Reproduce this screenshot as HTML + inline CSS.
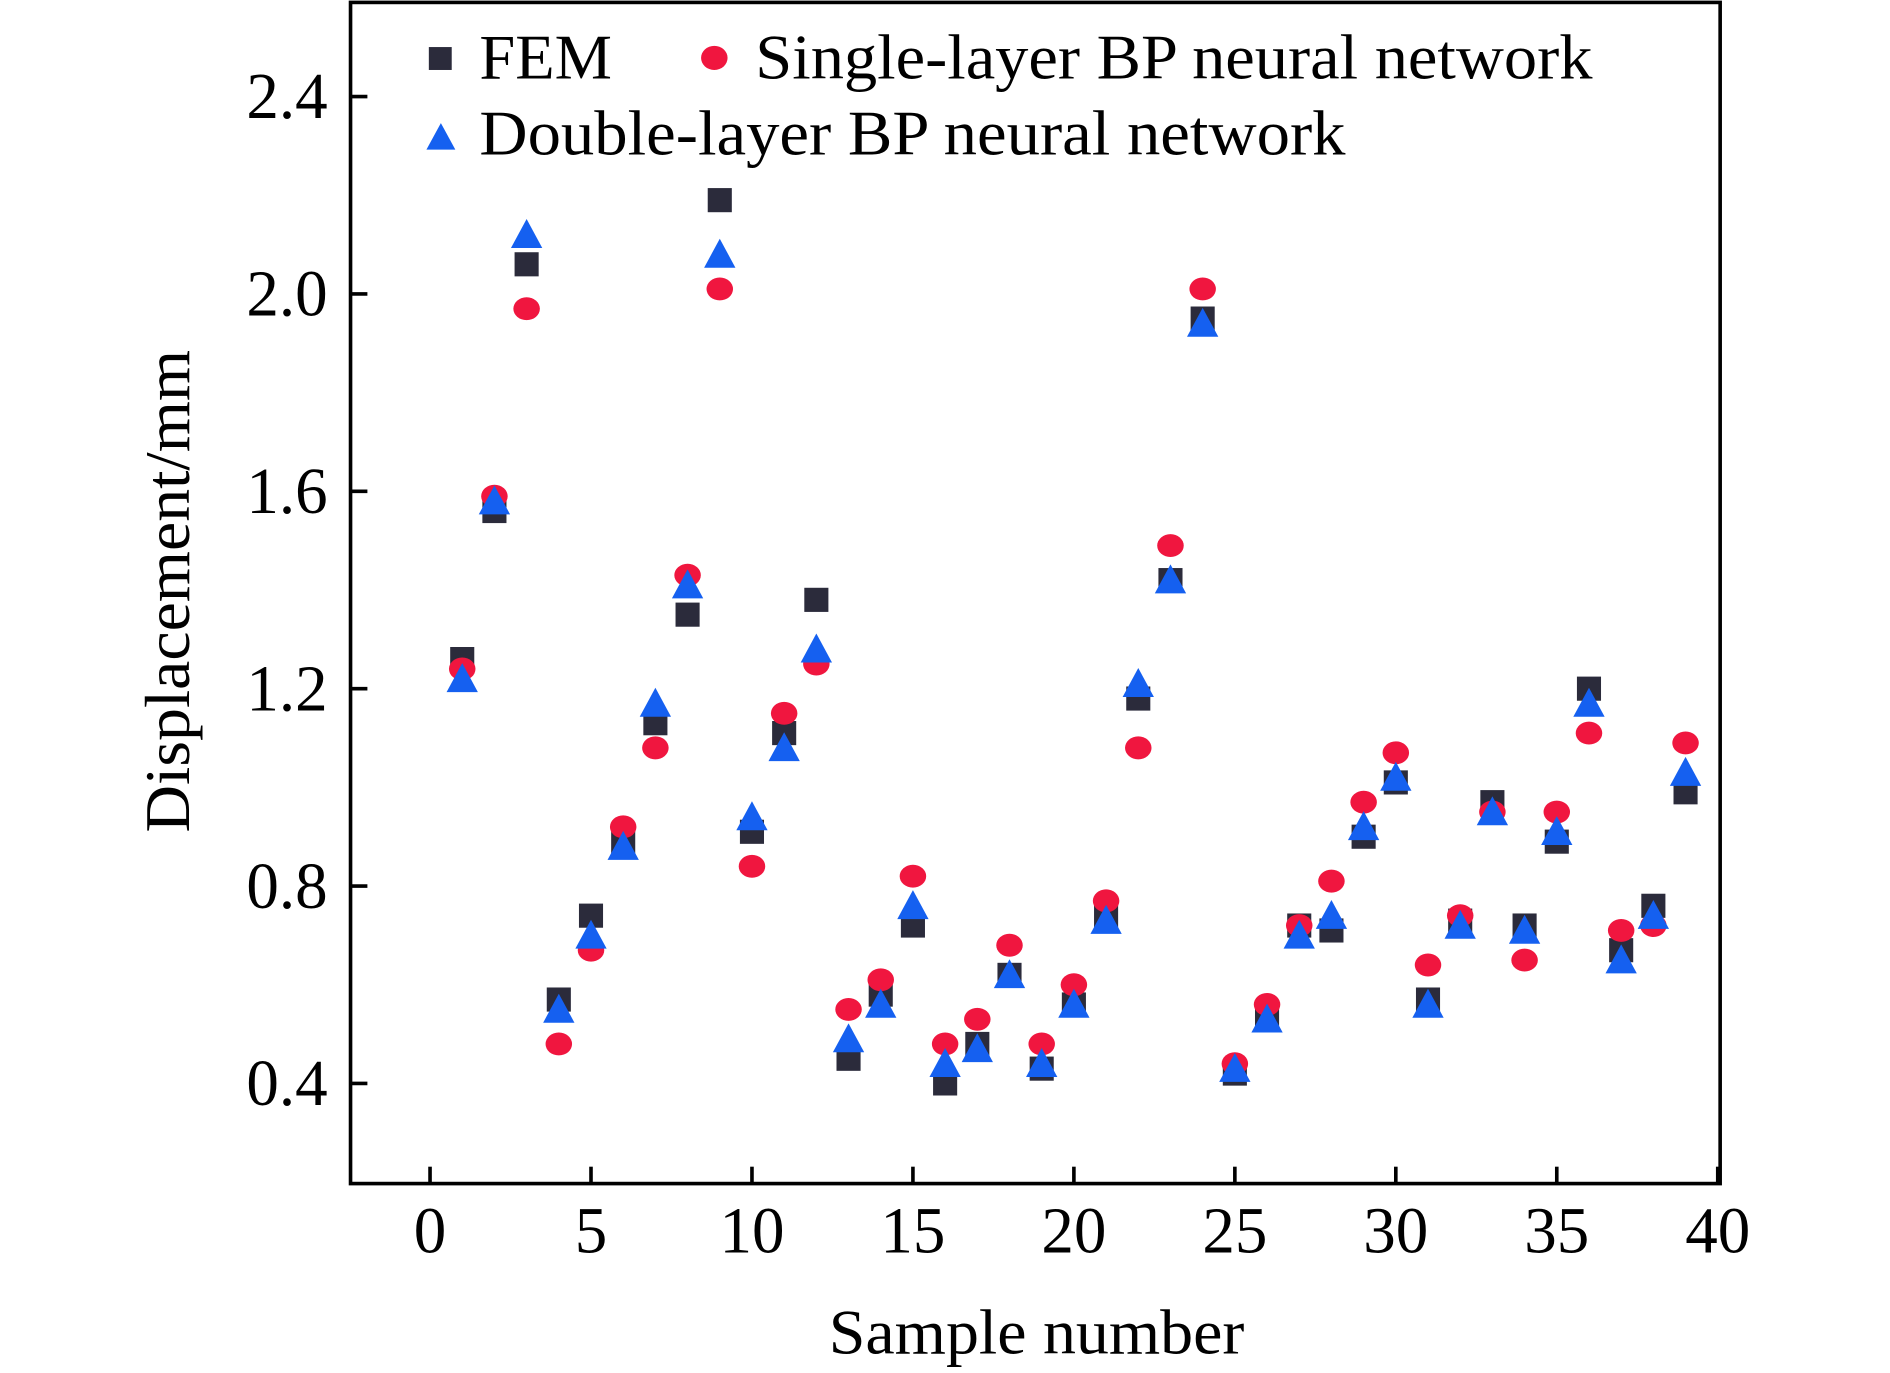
<!DOCTYPE html>
<html><head><meta charset="utf-8"><style>
html,body{margin:0;padding:0;background:#fff;}
svg{display:block;}
text{font-family:"Liberation Serif",serif;fill:#000;}
</style></head><body>
<svg id="chart" width="1890" height="1373" viewBox="0 0 1569 1138" preserveAspectRatio="none" xmlns="http://www.w3.org/2000/svg">
<rect x="291" y="2" width="1137" height="979" fill="none" stroke="#000" stroke-width="3"/>
<g id="xticks"></g><g id="yticks"></g><g id="marks"></g>
<text x="688" y="1122" font-size="53" textLength="345" lengthAdjust="spacingAndGlyphs">Sample number</text>
<text transform="translate(157,690) rotate(-90)" font-size="53" textLength="400" lengthAdjust="spacingAndGlyphs">Displacement/mm</text>
<g>
<rect x="356" y="39" width="19" height="19" fill="#2b2b3b"/>
<text x="398" y="65" font-size="53" textLength="110" lengthAdjust="spacingAndGlyphs">FEM</text>
<ellipse cx="593" cy="48" rx="11" ry="10" fill="#f0163f"/>
<text x="627" y="65" font-size="53" textLength="695" lengthAdjust="spacingAndGlyphs">Single-layer BP neural network</text>
<polygon points="366,102 378,124 354,124" fill="#1560f0"/>
<text x="398" y="128" font-size="53" textLength="719" lengthAdjust="spacingAndGlyphs">Double-layer BP neural network</text>
</g>
</svg>
<script>
const samples=[1,2,3,4,5,6,7,8,9,10,11,12,13,14,15,16,17,18,19,20,21,22,23,24,25,26,27,28,29,30,31,32,33,34,35,36,37,38,39];
const femValues=[1.26,1.56,2.06,0.57,0.74,0.89,1.13,1.35,2.19,0.91,1.11,1.38,0.45,0.58,0.72,0.40,0.48,0.62,0.43,0.56,0.74,1.18,1.42,1.95,0.42,0.54,0.72,0.71,0.90,1.01,0.57,0.73,0.97,0.72,0.89,1.20,0.67,0.76,0.99];
const singleValues=[1.24,1.59,1.97,0.48,0.67,0.92,1.08,1.43,2.01,0.84,1.15,1.25,0.55,0.61,0.82,0.48,0.53,0.68,0.48,0.60,0.77,1.08,1.49,2.01,0.44,0.56,0.72,0.81,0.97,1.07,0.64,0.74,0.95,0.65,0.95,1.11,0.71,0.72,1.09];
const doubleValues=[1.22,1.58,2.12,0.55,0.70,0.88,1.17,1.41,2.08,0.94,1.08,1.28,0.49,0.56,0.76,0.44,0.47,0.62,0.44,0.56,0.73,1.21,1.42,1.94,0.43,0.53,0.70,0.74,0.92,1.02,0.56,0.72,0.95,0.71,0.91,1.17,0.65,0.74,1.03];
const xTickLabels=["0","5","10","15","20","25","30","35","40"];
const yTickLabels=["0.4","0.8","1.2","1.6","2.0","2.4"];
const NS="http://www.w3.org/2000/svg";
function xs(v){return 357+(v-0)*(1426-357)/40;}
function ys(v){return 898-(v-0.4)*(898-80)/2.0;}
function mk(tag,attrs,parent){const e=document.createElementNS(NS,tag);for(const k in attrs)e.setAttribute(k,attrs[k]);parent.appendChild(e);return e;}
const xt=document.getElementById('xticks'),yt=document.getElementById('yticks'),mg=document.getElementById('marks');
xTickLabels.forEach(l=>{const v=parseFloat(l),x=xs(v);
 const t=mk('line',{x1:x,x2:x,y1:981,y2:967,stroke:'#000','stroke-width':3},xt);
 
 
 const tx=mk('text',{x:x,y:1038,'font-size':54,'text-anchor':'middle'},xt);tx.textContent=l;
 
 
});
yTickLabels.forEach(l=>{const v=parseFloat(l),y=ys(v);
 const t=mk('line',{x1:291,x2:305,y1:y,y2:y,stroke:'#000','stroke-width':3},yt);
 
 
 const tx=mk('text',{x:272,y:y+18,'font-size':54,'text-anchor':'end'},yt);tx.textContent=l;
 
 
});
samples.forEach((s,i)=>{const x=xs(s);
 const r=mk('rect',{x:x-10,y:ys(femValues[i])-10,width:20,height:20,fill:'#2b2b3b'},mg);
 
 
});
samples.forEach((s,i)=>{const x=xs(s);
 const c=mk('ellipse',{cx:x,cy:ys(singleValues[i]),rx:11,ry:9.5,fill:'#f0163f'},mg);
 
 
});
samples.forEach((s,i)=>{const x=xs(s),y=ys(doubleValues[i]);
 const p=mk('polygon',{points:`${x},${y-13} ${x+13},${y+11} ${x-13},${y+11}`,fill:'#1560f0'},mg);
 
 
});
</script>
</body></html>
